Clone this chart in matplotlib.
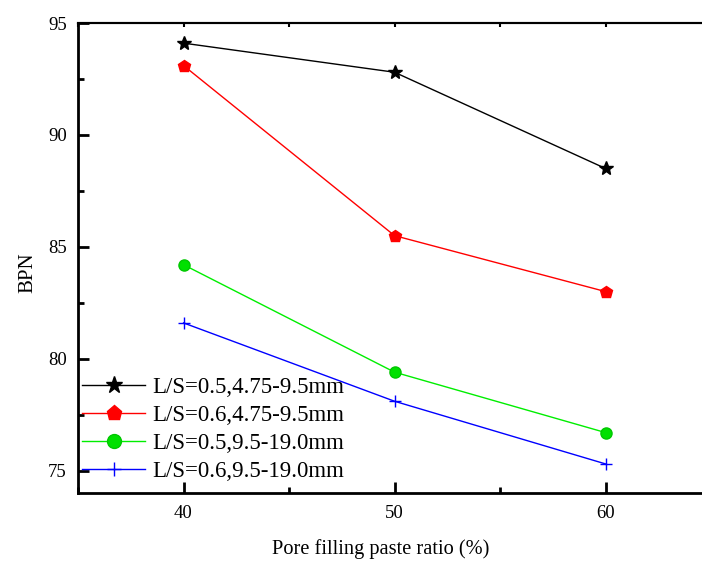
import matplotlib
matplotlib.use("Agg")
import matplotlib.pyplot as plt
from matplotlib.ticker import MultipleLocator

plt.rcParams['font.family'] = ['Liberation Serif', 'DejaVu Serif']

x = [40, 50, 60]
s1 = [94.1, 92.8, 88.5]
s2 = [93.1, 85.5, 83.0]
s3 = [84.2, 79.4, 76.7]
s4 = [81.6, 78.1, 75.3]
labels = ["L/S=0.5,4.75-9.5mm", "L/S=0.6,4.75-9.5mm",
          "L/S=0.5,9.5-19.0mm", "L/S=0.6,9.5-19.0mm"]

fig = plt.figure(figsize=(7.02, 5.61), dpi=100)
ax = fig.add_axes([78/702, 68/561, (711-78)/702, (493-23)/561])

ax.plot(x, s1, color='black', lw=1, marker='*', ms=10, mfc='black', mec='black', label=labels[0])
ax.plot(x, s2, color='red', lw=1, marker='p', ms=9, mfc='red', mec='red', label=labels[1])
ax.plot(x, s3, color='#00ee00', lw=1, marker='o', ms=8, mfc='#00e000', mec='#00c800', label=labels[2])
ax.plot(x, s4, color='blue', lw=1, marker='+', ms=8, mew=1, label=labels[3])

ax.set_xlim(35, 65)
ax.set_ylim(74, 95)
ax.xaxis.set_major_locator(MultipleLocator(10))
ax.xaxis.set_minor_locator(MultipleLocator(5))
ax.yaxis.set_major_locator(MultipleLocator(5))
ax.yaxis.set_minor_locator(MultipleLocator(2.5))
ax.tick_params(which='major', direction='in', length=8, width=2, labelsize=13.5,
               top=False, right=False)
ax.tick_params(which='minor', direction='in', length=4, width=2, top=False, right=False)
ax.tick_params(axis='x', which='major', pad=9)
ax.tick_params(axis='y', which='major', pad=8)
for side in ['left', 'bottom']:
    ax.spines[side].set_linewidth(2)
ax.spines['top'].set_linewidth(1.5)
ax.spines['right'].set_visible(False)

sec = ax.secondary_xaxis('top')
sec.xaxis.set_major_locator(MultipleLocator(10))
sec.xaxis.set_minor_locator(MultipleLocator(5))
sec.tick_params(which='both', direction='in', length=3, width=1.5, labeltop=False)
sec.spines['top'].set_linewidth(1.5)

ax.set_xlabel('Pore filling paste ratio (%)', fontsize=14.7)
ax.xaxis.set_label_coords((381-78)/633, (493-539)/470)
ax.set_ylabel('BPN', fontsize=15)
ax.yaxis.set_label_coords((37-78)/633, (493-273)/470)

leg = ax.legend(loc='upper left', frameon=False, fontsize=16.5, handlelength=2.75,
                handletextpad=0.3, labelspacing=0.3, borderaxespad=0.0, borderpad=0.0,
                markerscale=1.25, bbox_to_anchor=(4/633, (493-377)/470))

fig.savefig('out.png', dpi=100)
